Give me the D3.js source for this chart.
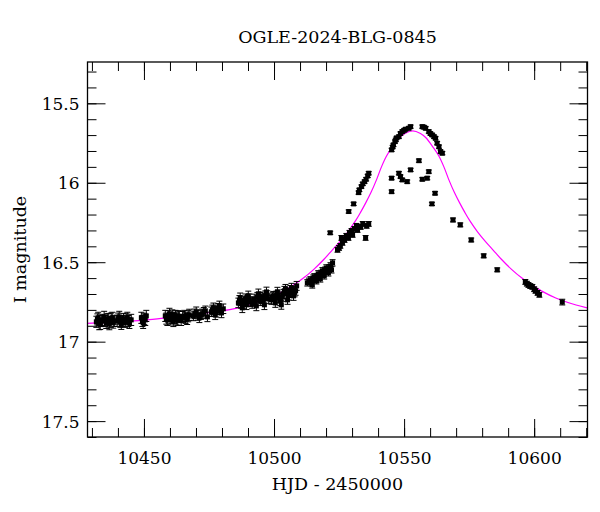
<!DOCTYPE html>
<html><head><meta charset="utf-8">
<script src="https://cdn.jsdelivr.net/npm/d3@7"></script>
<style>html,body{margin:0;padding:0;background:#fff;}svg{display:block;}</style>
</head><body>
<svg id="chart" width="600" height="512"></svg>
<script>
const title = "OGLE-2024-BLG-0845";
const xLabel = "HJD - 2450000";
const yLabel = "I magnitude";
const xTicks = [10450, 10500, 10550, 10600];
const yTicks = [15.5, 16, 16.5, 17, 17.5];
const yTickLabels = ["15.5", "16", "16.5", "17", "17.5"];

// Observations: [HJD-2450000, I mag, error]
const obs = [
 [10431.7,16.875,0.035],[10432.1,16.86,0.035],[10432.4,16.85,0.035],[10432.8,16.89,0.035],[10433.2,16.888,0.035],[10433.6,16.87,0.035],[10434.0,16.863,0.035],[10434.7,16.844,0.035],
 [10435.1,16.87,0.035],[10435.5,16.882,0.035],[10435.9,16.86,0.035],[10436.3,16.857,0.035],[10436.7,16.89,0.035],[10437.0,16.875,0.035],[10437.4,16.855,0.035],[10437.8,16.85,0.035],[10438.2,16.88,0.035],[10438.6,16.869,0.035],
 [10439.7,16.869,0.035],[10440.1,16.855,0.035],[10440.5,16.844,0.035],[10440.9,16.875,0.035],[10441.3,16.888,0.035],[10441.7,16.87,0.035],[10442.1,16.857,0.035],[10442.8,16.875,0.035],
 [10443.2,16.86,0.035],[10443.6,16.85,0.035],[10444.0,16.87,0.035],[10444.4,16.882,0.035],[10445.1,16.863,0.035],
 [10449.0,16.85,0.035],[10449.4,16.87,0.035],[10449.7,16.882,0.035],[10450.1,16.856,0.035],[10450.5,16.863,0.035],[10450.9,16.838,0.035],
 [10458.2,16.838,0.035],[10458.6,16.855,0.035],[10459.0,16.863,0.035],[10459.4,16.84,0.035],[10459.8,16.825,0.035],[10460.1,16.86,0.035],[10460.5,16.85,0.035],[10460.9,16.835,0.035],[10461.3,16.87,0.035],
 [10461.7,16.85,0.035],[10462.1,16.838,0.035],[10462.5,16.855,0.035],[10462.8,16.863,0.035],[10463.2,16.84,0.035],[10463.6,16.844,0.035],
 [10464.3,16.863,0.035],[10464.9,16.845,0.035],[10465.5,16.838,0.035],[10466.0,16.85,0.035],[10466.6,16.857,0.035],[10467.0,16.84,0.035],[10467.4,16.831,0.035],
 [10469.0,16.838,0.03],[10469.5,16.825,0.03],[10470.1,16.812,0.03],[10470.7,16.835,0.03],[10471.3,16.85,0.03],[10471.9,16.83,0.03],[10472.4,16.825,0.03],[10473.0,16.815,0.03],[10473.6,16.806,0.03],[10474.4,16.844,0.03],
 [10475.9,16.812,0.03],[10476.3,16.8,0.03],[10476.7,16.787,0.03],[10477.0,16.81,0.03],[10477.4,16.831,0.03],[10477.8,16.815,0.03],[10478.2,16.8,0.03],[10478.6,16.79,0.03],[10479.0,16.775,0.03],[10479.4,16.8,0.03],[10479.8,16.819,0.03],[10480.5,16.793,0.03],
 [10486.3,16.756,0.03],[10486.7,16.74,0.03],[10487.0,16.724,0.03],[10487.4,16.76,0.03],[10487.8,16.787,0.03],[10488.2,16.76,0.03],[10488.6,16.743,0.03],[10489.0,16.73,0.03],[10489.4,16.768,0.03],
 [10489.8,16.74,0.03],[10490.1,16.712,0.03],[10490.5,16.73,0.03],[10490.9,16.749,0.03],[10491.6,16.76,0.03],[10492.4,16.731,0.03],[10492.8,16.75,0.03],[10493.2,16.775,0.03],[10493.6,16.72,0.03],[10494.0,16.699,0.03],
 [10494.4,16.72,0.03],[10494.7,16.743,0.03],[10495.1,16.73,0.03],[10495.5,16.718,0.03],[10495.9,16.74,0.03],[10496.3,16.768,0.03],[10496.7,16.71,0.03],[10497.1,16.687,0.03],[10497.4,16.71,0.03],[10497.8,16.731,0.03],
 [10499.0,16.737,0.028],[10499.4,16.72,0.028],[10499.7,16.712,0.028],[10500.1,16.735,0.028],[10500.5,16.756,0.028],[10500.9,16.71,0.028],[10501.3,16.686,0.028],[10501.7,16.71,0.028],[10502.1,16.724,0.028],
 [10502.4,16.745,0.028],[10502.8,16.768,0.028],[10503.2,16.72,0.028],[10503.6,16.699,0.028],[10504.0,16.68,0.028],[10504.4,16.668,0.028],[10504.8,16.7,0.028],[10505.2,16.737,0.028],[10505.6,16.71,0.028],[10506.0,16.693,0.028],
 [10506.3,16.675,0.028],[10506.7,16.661,0.028],[10507.1,16.69,0.028],[10507.5,16.712,0.028],[10507.9,16.69,0.028],[10508.3,16.68,0.028],[10508.7,16.649,0.028],
 [10512.8,16.63,0.02],[10513.4,16.62,0.02],[10514.0,16.611,0.02],[10514.4,16.63,0.02],[10514.7,16.643,0.02],[10515.1,16.6,0.02],[10515.5,16.592,0.02],[10515.9,16.61,0.02],[10516.3,16.617,0.02],
 [10516.7,16.59,0.02],[10517.0,16.573,0.02],[10517.4,16.59,0.02],[10517.8,16.605,0.02],[10518.2,16.57,0.02],[10518.6,16.554,0.02],[10519.0,16.57,0.02],[10519.3,16.586,0.02],[10519.7,16.55,0.02],[10520.1,16.536,0.02],
 [10520.5,16.55,0.02],[10520.9,16.567,0.02],[10521.3,16.535,0.02],[10521.7,16.523,0.02],[10522.1,16.548,0.02],[10522.5,16.504,0.02],
 [10521.6,16.315,0.01],
 [10524.4,16.422,0.015],[10525.0,16.41,0.015],[10525.5,16.397,0.015],[10526.3,16.378,0.015],[10525.9,16.347,0.015],[10527.1,16.36,0.015],
 [10527.8,16.334,0.015],[10528.6,16.347,0.015],[10529.0,16.315,0.015],[10529.8,16.303,0.015],[10530.2,16.328,0.015],
 [10530.9,16.29,0.015],[10531.7,16.271,0.015],[10532.1,16.297,0.015],[10533.3,16.278,0.015],[10534.1,16.259,0.015],
 [10535.2,16.347,0.015],[10535.6,16.271,0.015],[10536.4,16.259,0.015],
 [10528.7,16.181,0.01],[10530.6,16.133,0.01],[10532.5,16.062,0.01],[10532.8,16.045,0.01],[10533.6,16.024,0.01],
 [10534.1,16.007,0.01],[10534.8,15.993,0.01],[10535.4,15.978,0.01],[10536.0,15.957,0.01],[10536.4,15.94,0.01],
 [10545.2,15.971,0.01],[10545.2,16.056,0.01],[10548.0,15.94,0.01],[10548.6,15.961,0.01],[10549.3,15.982,0.01],
 [10551.2,15.993,0.01],[10552.5,15.919,0.01],[10555.7,15.861,0.01],[10557.0,15.978,0.01],[10558.9,15.971,0.01],[10559.5,15.93,0.01],
 [10545.2,15.793,0.01],[10545.6,15.775,0.01],[10545.9,15.762,0.01],[10546.5,15.741,0.01],[10546.8,15.73,0.01],[10547.1,15.718,0.01],[10548.0,15.71,0.01],
 [10548.6,15.69,0.01],[10549.3,15.678,0.01],[10550.0,15.67,0.01],[10550.6,15.663,0.01],[10551.8,15.657,0.01],[10552.5,15.647,0.01],
 [10557.0,15.647,0.01],[10557.6,15.65,0.01],[10558.3,15.657,0.01],[10559.5,15.678,0.01],[10560.1,15.69,0.01],[10560.8,15.699,0.01],[10561.5,15.71,0.01],[10562.1,15.72,0.01],
 [10562.7,15.751,0.01],[10563.4,15.773,0.01],[10564.0,15.804,0.01],[10564.7,15.814,0.01],
 [10561.9,16.066,0.01],[10560.7,16.133,0.01],
 [10568.8,16.234,0.012],[10571.6,16.265,0.012],[10575.8,16.36,0.012],[10580.6,16.46,0.012],[10585.8,16.548,0.012],
 [10596.6,16.624,0.015],[10597.2,16.635,0.015],[10597.8,16.643,0.015],[10598.5,16.65,0.015],[10599.3,16.655,0.015],[10600.0,16.67,0.015],[10600.5,16.68,0.015],[10601.3,16.693,0.015],[10602.0,16.705,0.015],
 [10610.8,16.751,0.018]
];

// Model curve
const modelT   = [10427.3,10440.3,10453.3,10466.3,10478.3,10486.3,10493.3,10498.3,10503.3,10507.3,10511.3,10515.3,10519.3,10522.3,10525.3,10528.3,10531.3,10533.3,10535.3,10537.3,10539.3,10541.3,10543.3,10545.3,10548.3,10550.3,10553.3,
                  10556.3,10558.3,10561.3,10563.3,10565.3,10567.3,10569.3,10571.3,10573.3,10575.3,10578.3,10581.3,10584.3,10587.3,10591.3,10595.3,10599.3,10603.3,10608.3,10613.3,10620.3];
const modelMag = [16.885,16.875,16.86,16.835,16.81,16.787,16.755,16.725,16.685,16.645,16.6,16.545,16.48,16.425,16.37,16.31,16.24,16.185,16.125,16.06,15.985,15.9,15.83,15.78,15.715,15.69,15.674,
                  15.69,15.715,15.78,15.83,15.9,15.985,16.06,16.125,16.185,16.24,16.31,16.37,16.425,16.48,16.545,16.6,16.645,16.685,16.725,16.755,16.787];

const svg = d3.select("#chart");
const L = 87.5, R = 587.5, T = 62, B = 437;
const x = d3.scaleLinear().domain([10428.3, 10620.5]).range([L, R]);
const y = d3.scaleLinear().domain([15.24, 17.6]).range([T, B]);
const font = "'DejaVu Serif', serif";

const plot = svg.append("g");
svg.append("defs").append("clipPath").attr("id","clip")
  .append("rect").attr("x",L).attr("y",T).attr("width",R-L).attr("height",B-T);

// model
plot.append("path")
  .datum(modelT.map((t,i)=>[t, modelMag[i]]))
  .attr("clip-path","url(#clip)")
  .attr("fill","none").attr("stroke","#ff00ff").attr("stroke-width",1.2)
  .attr("d", d3.line().x(d=>x(d[0])).y(d=>y(d[1])).curve(d3.curveCatmullRom.alpha(0.5)));

// error bars
const g = plot.append("g").attr("clip-path","url(#clip)");
const eb = g.selectAll("g.eb").data(obs).join("g");
eb.append("line").attr("x1",d=>x(d[0])).attr("x2",d=>x(d[0]))
  .attr("y1",d=>y(d[1]-d[2])).attr("y2",d=>y(d[1]+d[2])).attr("stroke","#000").attr("stroke-width",1);
eb.append("line").attr("x1",d=>x(d[0])-3).attr("x2",d=>x(d[0])+3)
  .attr("y1",d=>y(d[1]-d[2])).attr("y2",d=>y(d[1]-d[2])).attr("stroke","#000").attr("stroke-width",1);
eb.append("line").attr("x1",d=>x(d[0])-3).attr("x2",d=>x(d[0])+3)
  .attr("y1",d=>y(d[1]+d[2])).attr("y2",d=>y(d[1]+d[2])).attr("stroke","#000").attr("stroke-width",1);
g.selectAll("rect.pt").data(obs).join("rect")
  .attr("x",d=>x(d[0])-2.5).attr("y",d=>y(d[1])-2.5).attr("width",5).attr("height",5).attr("fill","#000");

// axes with long major and short minor ticks on all four sides
function axisSet(axisFn, scale, major, minor, transform, fmt, showLabels) {
  const ga = svg.append("g").attr("transform", transform);
  ga.call(axisFn(scale).tickValues(minor).tickSize(9).tickFormat(""));
  const gm = svg.append("g").attr("transform", transform);
  gm.call(axisFn(scale).tickValues(major).tickSize(18).tickFormat(showLabels ? fmt : ""));
  [ga, gm].forEach(s => { s.select(".domain").remove(); s.selectAll("line").attr("stroke","#000").attr("stroke-width",1); });
  return gm;
}
const xMinor = d3.range(10430, 10621, 10);
const yMinor = d3.range(15.3, 17.61, 0.1).map(v=>+v.toFixed(1));

// bottom
const gb = axisSet(d3.axisTop, x, xTicks, xMinor, `translate(0,${B})`, d3.format("d"), true);
gb.selectAll("text").attr("y", 27).attr("dy", 0).attr("font-family", font).attr("font-size", 17).attr("fill","#000");
// top
axisSet(d3.axisBottom, x, xTicks, xMinor, `translate(0,${T})`, null, false);
// left
const gl = axisSet(d3.axisRight, y, yTicks, yMinor, `translate(${L},0)`, (d,i)=>yTickLabels[i], true);
gl.selectAll("text").attr("x", -8).attr("text-anchor","end").attr("dy","0.35em").attr("font-family", font).attr("font-size", 17).attr("fill","#000");
// right
axisSet(d3.axisLeft, y, yTicks, yMinor, `translate(${R},0)`, null, false);

// frame
svg.append("rect").attr("x",L).attr("y",T).attr("width",R-L).attr("height",B-T)
  .attr("fill","none").attr("stroke","#000").attr("stroke-width",1.3);

// titles
svg.append("text").attr("x",(L+R)/2).attr("y",43).attr("text-anchor","middle")
  .attr("font-family",font).attr("font-size",17.5).text(title);
svg.append("text").attr("x",(L+R)/2).attr("y",490).attr("text-anchor","middle")
  .attr("font-family",font).attr("font-size",17.5).text(xLabel);
svg.append("text").attr("transform",`translate(26,${(T+B)/2}) rotate(-90)`).attr("text-anchor","middle")
  .attr("font-family",font).attr("font-size",17.5).text(yLabel);
</script>
</body></html>
